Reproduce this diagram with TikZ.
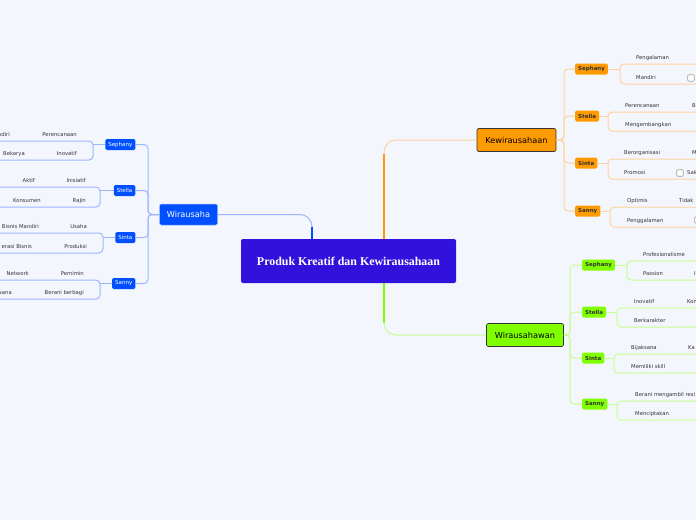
\documentclass[tikz,border=0pt]{standalone}
\usepackage{fontspec}
\setmainfont{DejaVu Sans}
\newfontfamily\rootfont{Liberation Serif}
\usepackage{tikz}
\usetikzlibrary{calc}
\definecolor{bgc}{HTML}{F3F6FD}
\definecolor{rootc}{HTML}{3311DD}
\definecolor{bluec}{HTML}{0050FF}
\definecolor{bluel}{HTML}{9DB6FF}
\definecolor{orc}{HTML}{FF9A00}
\definecolor{orl}{HTML}{FFD39E}
\definecolor{grc}{HTML}{80FF00}
\definecolor{grl}{HTML}{C6FF90}
\definecolor{txt}{HTML}{333333}
\newcommand{\leaffont}{\fontsize{5.3}{6.4}\selectfont}

\begin{document}
\begin{tikzpicture}[x=1pt, y=-1pt,
  root/.style={fill=rootc, text=white, rounded corners=2pt, minimum width=215pt, minimum height=44pt, font=\rootfont\bfseries\fontsize{11.9}{14}\selectfont},
  mainbox/.style={draw=black!80, line width=0.7pt, rounded corners=2pt, minimum height=23pt, inner xsep=4pt, font=\fontsize{8.2}{10}\selectfont},
  osub/.style={anchor=west, fill=orc, text=txt, rounded corners=1.5pt, minimum height=11pt, inner xsep=3pt, inner ysep=0pt, font=\bfseries\fontsize{5.5}{6.6}\selectfont},
  gsub/.style={osub, fill=grc},
  bsub/.style={anchor=east, fill=bluec, text=white, rounded corners=1.5pt, minimum height=11pt, inner xsep=3pt, inner ysep=0pt, font=\fontsize{5.5}{6.6}\selectfont},
  leaf/.style={anchor=base west, inner sep=0pt, text=txt, font=\leaffont},
  leafl/.style={leaf, anchor=base east},
  oline/.style={draw=orl, line width=1pt, rounded corners=4pt},
  gline/.style={draw=grl, line width=1pt, rounded corners=4pt},
  bline/.style={draw=bluel, line width=1pt, rounded corners=4pt},
  chk/.style={draw=gray!75, fill=white, line width=0.6pt, rounded corners=1pt, minimum size=6.5pt, inner sep=0pt}]
\fill[bgc] (0,0) rectangle (696,520);
\useasboundingbox (0,0) rectangle (696,520);
\coordinate (L) at (-4,0); \coordinate (R) at (700,0);
\coordinate (jl) at (312,0); \coordinate (jr) at (384,0);
\coordinate (tl) at (148,0); \coordinate (tk) at (564,0); \coordinate (tg) at (570,0);

% main topics
\node[root] (root) at (348.5,261) {Produk Kreatif dan Kewirausahaan};
\node[mainbox, fill=orc, minimum width=79pt] (kew) at (516.5,140) {Kewirausahaan};
\node[mainbox, fill=grc, minimum width=77pt] (wwn) at (525,335) {Wirausahawan};
\node[mainbox, fill=bluec, draw=bluel, line width=0.5pt, text=white, minimum width=58pt, minimum height=21pt] (wu) at (188.5,214.5) {Wirausaha};
\draw[draw=orl, line width=1pt, rounded corners=12pt] (root.north -| jr) |- (kew.west);
\draw[draw=orc, line width=2.6pt] (root.north -| jr) -- ++(0,-85);
\draw[draw=grl, line width=1pt, rounded corners=12pt] (root.south -| jr) |- (wwn.west);
\draw[draw=grc, line width=2.6pt] (root.south -| jr) -- ++(0,40);
\draw[draw=bluel, line width=1pt, rounded corners=12pt] (root.north -| jl) |- (wu.east);
\draw[draw=bluec, line width=2.6pt] (root.north -| jl) -- ++(0,-12);

% Kewirausahaan
\node[osub] (ks1) at (575,69) {Sephany};
\node[osub] (ks2) at (575,116) {Stella};
\node[osub] (ks3) at (575,163) {Sinta};
\node[osub] (ks4) at (575,211) {Sanny};
\foreach \s in {ks1,ks2,ks3,ks4} \draw[oline] (kew.east) -- (kew.east -| tk) |- (\s.west);
\coordinate (ks1t) at (620,64); \coordinate (ks1b) at (620,84);
\draw[oline] (ks1.east) -- (ks1.east -| ks1t);
\draw[oline] (ks1t -| R) -- (ks1t) -- (ks1b) -- (ks1b -| R);
\node[leaf] (ks1a) at ($(ks1t)+(16,-4.5)$) {Pengalaman};
\node[leaf] (ks1c) at ($(ks1b)+(16,-4.5)$) {Mandiri};
\node[chk] (ks1x) at ($(ks1b)+(71,-6)$) {};
\coordinate (ks2t) at (608,112); \coordinate (ks2b) at (608,131);
\draw[oline] (ks2.east) -- (ks2.east -| ks2t);
\draw[oline] (ks2t -| R) -- (ks2t) -- (ks2b) -- (ks2b -| R);
\node[leaf] (ks2a) at ($(ks2t)+(17,-4.5)$) {Perencanaan};
\node[leaf] (ks2c) at ($(ks2b)+(17,-4.5)$) {Mengembangkan};
\node[leaf] at ($(ks2t)+(84,-4.5)$) {B};
\coordinate (ks3t) at (608,159); \coordinate (ks3b) at (608,179);
\draw[oline] (ks3.east) -- (ks3.east -| ks3t);
\draw[oline] (ks3t -| R) -- (ks3t) -- (ks3b) -- (ks3b -| R);
\node[leaf] (ks3a) at ($(ks3t)+(16,-4.5)$) {Berorganisasi};
\node[leaf] (ks3c) at ($(ks3b)+(16,-4.5)$) {Promosi};
\node[leaf] at ($(ks3t)+(84,-4.5)$) {M};
\node[chk] (ks3x) at ($(ks3b)+(72,-6)$) {};
\node[leaf] at ($(ks3b)+(79,-4.5)$) {Sak};
\coordinate (ks4t) at (610,207); \coordinate (ks4b) at (610,227);
\draw[oline] (ks4.east) -- (ks4.east -| ks4t);
\draw[oline] (ks4t -| R) -- (ks4t) -- (ks4b) -- (ks4b -| R);
\node[leaf] (ks4a) at ($(ks4t)+(17,-4.5)$) {Optimis};
\node[leaf] (ks4c) at ($(ks4b)+(17,-4.5)$) {Penggalaman};
\node[leaf] at ($(ks4t)+(69,-4.5)$) {Tidak};
\node[chk] (ks4x) at ($(ks4b)+(88,-7)$) {};

% Wirausahawan
\node[gsub] (gs1) at (582,265) {Sephany};
\node[gsub] (gs2) at (582,312) {Stella};
\node[gsub] (gs3) at (582,358) {Sinta};
\node[gsub] (gs4) at (582,404) {Sanny};
\foreach \s in {gs1,gs2,gs3,gs4} \draw[gline] (wwn.east) -- (wwn.east -| tg) |- (\s.west);
\coordinate (gs1t) at (627,261); \coordinate (gs1b) at (627,280);
\draw[gline] (gs1.east) -- (gs1.east -| gs1t);
\draw[gline] (gs1t -| R) -- (gs1t) -- (gs1b) -- (gs1b -| R);
\node[leaf] (gs1a) at ($(gs1t)+(16,-4.5)$) {Profesionalisme};
\node[leaf] (gs1c) at ($(gs1b)+(16,-4.5)$) {Passion};
\node[leaf] at ($(gs1b)+(67,-4.5)$) {I};
\coordinate (gs2t) at (617,308); \coordinate (gs2b) at (617,327);
\draw[gline] (gs2.east) -- (gs2.east -| gs2t);
\draw[gline] (gs2t -| R) -- (gs2t) -- (gs2b) -- (gs2b -| R);
\node[leaf] (gs2a) at ($(gs2t)+(17,-4.5)$) {Inovatif};
\node[leaf] (gs2c) at ($(gs2b)+(17,-4.5)$) {Berkarakter};
\node[leaf] at ($(gs2t)+(70,-4.5)$) {Kon};
\coordinate (gs3t) at (614,354); \coordinate (gs3b) at (614,373);
\draw[gline] (gs3.east) -- (gs3.east -| gs3t);
\draw[gline] (gs3t -| R) -- (gs3t) -- (gs3b) -- (gs3b -| R);
\node[leaf] (gs3a) at ($(gs3t)+(17,-4.5)$) {Bijaksana};
\node[leaf] (gs3c) at ($(gs3b)+(17,-4.5)$) {Memiliki skill};
\node[leaf] at ($(gs3t)+(74,-4.5)$) {Ka};
\coordinate (gs4t) at (617,401); \coordinate (gs4b) at (617,420);
\draw[gline] (gs4.east) -- (gs4.east -| gs4t);
\draw[gline] (gs4t -| R) -- (gs4t) -- (gs4b) -- (gs4b -| R);
\node[leaf] (gs4a) at ($(gs4t)+(18,-4.5)$) {Berani mengambil resi};
\node[leaf] (gs4c) at ($(gs4b)+(18,-4.5)$) {Menciptakan};

% Wirausaha
\node[bsub] (ws1) at (135.5,144.5) {Sephany};
\node[bsub] (ws2) at (135.5,190.5) {Stella};
\node[bsub] (ws3) at (135.5,237.5) {Sinta};
\node[bsub] (ws4) at (135.5,283.5) {Sanny};
\foreach \s in {ws1,ws2,ws3,ws4} \draw[bline] (wu.west) -- (wu.west -| tl) |- (\s.east);
\coordinate (ws1t) at (93,141); \coordinate (ws1b) at (93,160);
\draw[bline] (ws1.west) -- (ws1.west -| ws1t);
\draw[bline] (ws1t -| L) -- (ws1t) -- (ws1b) -- (ws1b -| L);
\node[leafl] (ws1a) at ($(ws1t)+(-16,-4.5)$) {Perencanaan};
\node[leafl] (ws1c) at ($(ws1b)+(-16,-4.5)$) {Inovatif};
\node[leafl] at ($(ws1t)+(-83,-4.5)$) {ndiri};
\node[leafl] at ($(ws1b)+(-68,-4.5)$) {Bekarya};
\coordinate (ws2t) at (100,187); \coordinate (ws2b) at (100,207);
\draw[bline] (ws2.west) -- (ws2.west -| ws2t);
\draw[bline] (ws2t -| L) -- (ws2t) -- (ws2b) -- (ws2b -| L);
\node[leafl] (ws2a) at ($(ws2t)+(-14,-4.5)$) {Inisiatif};
\node[leafl] (ws2c) at ($(ws2b)+(-14,-4.5)$) {Rajin};
\node[leafl] at ($(ws2t)+(-65,-4.5)$) {Aktif};
\node[leafl] at ($(ws2b)+(-59,-4.5)$) {Konsumen};
\coordinate (ws3t) at (103,233); \coordinate (ws3b) at (103,253);
\draw[bline] (ws3.west) -- (ws3.west -| ws3t);
\draw[bline] (ws3t -| L) -- (ws3t) -- (ws3b) -- (ws3b -| L);
\node[leafl] (ws3a) at ($(ws3t)+(-16,-4.5)$) {Usaha};
\node[leafl] (ws3c) at ($(ws3b)+(-16,-4.5)$) {Produksi};
\node[leafl] at ($(ws3t)+(-64,-4.5)$) {Bisnis Mandiri};
\node[leafl] at ($(ws3b)+(-71,-4.5)$) {erasi Bisnis};
\coordinate (ws4t) at (100,280); \coordinate (ws4b) at (100,299);
\draw[bline] (ws4.west) -- (ws4.west -| ws4t);
\draw[bline] (ws4t -| L) -- (ws4t) -- (ws4b) -- (ws4b -| L);
\node[leafl] (ws4a) at ($(ws4t)+(-16,-4.5)$) {Pemimin};
\node[leafl] (ws4c) at ($(ws4b)+(-16,-4.5)$) {Berani berbagi};
\node[leafl] at ($(ws4t)+(-71,-4.5)$) {Network};
\node[leafl] at ($(ws4b)+(-88,-4.5)$) {sana};
\end{tikzpicture}
\end{document}
